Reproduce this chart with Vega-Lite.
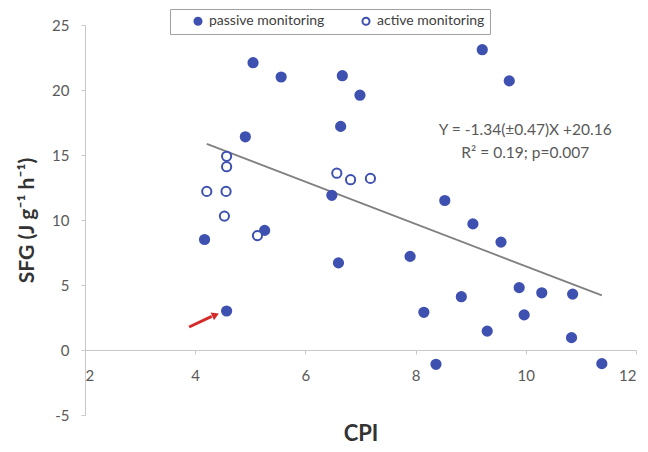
{
  "$schema": "https://vega.github.io/schema/vega-lite/v6.json",
  "width": 551,
  "height": 390,
  "autosize": "none",
  "padding": {"left": 85, "top": 25, "right": 12, "bottom": 37},
  "background": "white",
  "config": {
    "view": {"stroke": null},
    "font": "Lato",
    "axis": {"grid": false}
  },
  "datasets": {
    "pts": [
      {"cpi": 5.05, "sfg": 22.1, "group": "passive monitoring"},
      {"cpi": 5.56, "sfg": 21.0, "group": "passive monitoring"},
      {"cpi": 6.67, "sfg": 21.1, "group": "passive monitoring"},
      {"cpi": 6.99, "sfg": 19.6, "group": "passive monitoring"},
      {"cpi": 9.21, "sfg": 23.1, "group": "passive monitoring"},
      {"cpi": 9.70, "sfg": 20.7, "group": "passive monitoring"},
      {"cpi": 6.64, "sfg": 17.2, "group": "passive monitoring"},
      {"cpi": 4.91, "sfg": 16.4, "group": "passive monitoring"},
      {"cpi": 6.48, "sfg": 11.9, "group": "passive monitoring"},
      {"cpi": 8.53, "sfg": 11.5, "group": "passive monitoring"},
      {"cpi": 4.17, "sfg": 8.5, "group": "passive monitoring"},
      {"cpi": 5.26, "sfg": 9.2, "group": "passive monitoring"},
      {"cpi": 6.60, "sfg": 6.7, "group": "passive monitoring"},
      {"cpi": 7.90, "sfg": 7.2, "group": "passive monitoring"},
      {"cpi": 9.04, "sfg": 9.7, "group": "passive monitoring"},
      {"cpi": 9.55, "sfg": 8.3, "group": "passive monitoring"},
      {"cpi": 4.57, "sfg": 3.0, "group": "passive monitoring"},
      {"cpi": 8.15, "sfg": 2.9, "group": "passive monitoring"},
      {"cpi": 8.83, "sfg": 4.1, "group": "passive monitoring"},
      {"cpi": 9.30, "sfg": 1.45, "group": "passive monitoring"},
      {"cpi": 9.88, "sfg": 4.8, "group": "passive monitoring"},
      {"cpi": 10.29, "sfg": 4.4, "group": "passive monitoring"},
      {"cpi": 9.97, "sfg": 2.7, "group": "passive monitoring"},
      {"cpi": 10.85, "sfg": 4.3, "group": "passive monitoring"},
      {"cpi": 10.83, "sfg": 0.95, "group": "passive monitoring"},
      {"cpi": 8.37, "sfg": -1.1, "group": "passive monitoring"},
      {"cpi": 11.38, "sfg": -1.05, "group": "passive monitoring"},
      {"cpi": 4.57, "sfg": 14.9, "group": "active monitoring"},
      {"cpi": 4.57, "sfg": 14.1, "group": "active monitoring"},
      {"cpi": 4.21, "sfg": 12.2, "group": "active monitoring"},
      {"cpi": 4.56, "sfg": 12.2, "group": "active monitoring"},
      {"cpi": 6.57, "sfg": 13.6, "group": "active monitoring"},
      {"cpi": 6.82, "sfg": 13.1, "group": "active monitoring"},
      {"cpi": 7.18, "sfg": 13.2, "group": "active monitoring"},
      {"cpi": 4.53, "sfg": 10.3, "group": "active monitoring"},
      {"cpi": 5.13, "sfg": 8.8, "group": "active monitoring"}
    ],
    "fit": [
      {"cpi": 4.21, "sfg": 15.85},
      {"cpi": 11.38, "sfg": 4.2}
    ],
    "arrow": [
      {"cpi": 3.89, "sfg": 1.77, "cpi2": 4.3, "sfg2": 2.58}
    ],
    "arrowhead": [
      {"cpi": 4.37, "sfg": 2.7}
    ],
    "notes": [
      {"cpi": 9.99, "sfg": 16.9, "label": "Y = -1.34(±0.47)X +20.16"},
      {"cpi": 9.99, "sfg": 15.15, "label": "R² = 0.19; p=0.007"}
    ]
  },
  "layer": [
    {
      "data": {"name": "fit"},
      "mark": {"type": "line", "color": "#808080", "strokeWidth": 1.8},
      "encoding": {
        "x": {
          "field": "cpi", "type": "quantitative",
          "scale": {"domain": [2, 12], "nice": false, "zero": false},
          "axis": {
            "values": [2, 4, 6, 8, 10, 12],
            "offset": -65,
            "title": "CPI",
            "titleFontSize": 22,
            "titleFontWeight": "bold",
            "titleColor": "#333333",
            "titlePadding": 40,
            "labelFontSize": 15,
            "labelColor": "#595959",
            "labelPadding": 14,
            "domainColor": "#c8c8c8",
            "tickColor": "#c8c8c8",
            "tickSize": 4
          }
        },
        "y": {
          "field": "sfg", "type": "quantitative",
          "scale": {"domain": [-5, 25], "nice": false, "zero": false},
          "axis": {
            "values": [-5, 0, 5, 10, 15, 20, 25],
            "labelExpr": "replace(datum.label, '−', '-')",
            "title": "SFG (J g⁻¹ h⁻¹)",
            "titleFontSize": 21,
            "titleFontWeight": "bold",
            "titleColor": "#333333",
            "titlePadding": 14,
            "labelFontSize": 15,
            "labelColor": "#595959",
            "labelPadding": 12,
            "domainColor": "#c8c8c8",
            "tickColor": "#c8c8c8",
            "tickSize": 4
          }
        }
      }
    },
    {
      "data": {"name": "pts"},
      "mark": {"type": "point", "shape": "circle", "stroke": "#3f51b0", "strokeWidth": 2, "size": 85, "opacity": 1},
      "encoding": {
        "x": {"field": "cpi", "type": "quantitative"},
        "y": {"field": "sfg", "type": "quantitative"},
        "fill": {
          "field": "group", "type": "nominal",
          "scale": {"domain": ["passive monitoring", "active monitoring"], "range": ["#3f51b0", "#ffffff"]},
          "legend": {
            "title": null,
            "orient": "none",
            "legendX": 85,
            "legendY": -16,
            "direction": "horizontal",
            "strokeColor": "#a0a0a0",
            "fillColor": "white",
            "padding": 5,
            "symbolOffset": 16,
            "labelFontSize": 14,
            "labelColor": "#404040",
            "symbolStrokeColor": "#3f51b0",
            "symbolStrokeWidth": 2,
            "symbolSize": 50,
            "columnPadding": 18
          }
        }
      }
    },
    {
      "data": {"name": "arrow"},
      "mark": {"type": "rule", "color": "#d42a2a", "strokeWidth": 3},
      "encoding": {
        "x": {"field": "cpi", "type": "quantitative"},
        "y": {"field": "sfg", "type": "quantitative"},
        "x2": {"field": "cpi2"},
        "y2": {"field": "sfg2"}
      }
    },
    {
      "data": {"name": "arrowhead"},
      "mark": {"type": "point", "shape": "triangle-right", "filled": true, "color": "#d42a2a", "size": 70, "angle": 336, "opacity": 1},
      "encoding": {
        "x": {"field": "cpi", "type": "quantitative"},
        "y": {"field": "sfg", "type": "quantitative"}
      }
    },
    {
      "data": {"name": "notes"},
      "mark": {"type": "text", "fontSize": 15.5, "color": "#595959", "align": "center", "baseline": "middle"},
      "encoding": {
        "x": {"field": "cpi", "type": "quantitative"},
        "y": {"field": "sfg", "type": "quantitative"},
        "text": {"field": "label"}
      }
    }
  ]
}
